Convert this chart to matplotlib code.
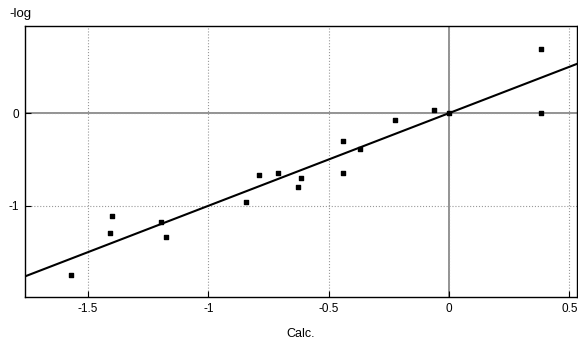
import numpy as np
import matplotlib.pyplot as plt

plt.rcParams['font.family'] = ['Liberation Sans', 'DejaVu Sans']

# calculated vs measured (-log) values
calc = [-1.569, -1.400, -1.408, -1.196, -1.178,
        -0.845, -0.789, -0.712, -0.629, -0.615,
        -0.439, -0.439, -0.371, -0.224, -0.064, 0.0,
        0.381, 0.381]
meas = [-1.744, -1.114, -1.294, -1.180, -1.341,
        -0.957, -0.665, -0.643, -0.798, -0.705,
        -0.302, -0.643, -0.385, -0.076, 0.029, 0.0,
        0.690, 0.0]
xticks = [-1.5, -1, -0.5, 0, 0.5]
xtick_labels = ['-1.5', '-1', '-0.5', '0', '0.5']
yticks = [-1, 0]
ytick_labels = ['-1', '0']

fig = plt.figure(figsize=(5.78, 3.43), dpi=100)
ax = fig.add_axes([0.0433, 0.134, 0.955, 0.790])

xlim = (-1.762, 0.532)
ylim = (-1.985, 0.94)

# reference lines through origin
ax.axhline(0, color='#808080', lw=1.2, zorder=1)
ax.axvline(0, color='#808080', lw=1.2, zorder=1)

# y = x line
lx = np.array(xlim)
ax.plot(lx, lx, color='black', lw=1.5, zorder=3)

ax.scatter(calc, meas, marker='s', s=12, color='black', zorder=4)

ax.set_xlim(xlim)
ax.set_ylim(ylim)
ax.set_xticks(xticks)
ax.set_xticklabels(xtick_labels)
ax.set_yticks(yticks)
ax.set_yticklabels(ytick_labels)
ax.grid(True, linestyle=':', color='#999999', lw=0.8)
ax.tick_params(direction='in', length=4, labelsize=8.5, pad=4)
for s in ax.spines.values():
    s.set_linewidth(1.0)

ax.set_xlabel('Calc.', fontsize=9, labelpad=10)
fig.text(0.017, 0.958, '-log', fontsize=9.5, va='center', ha='left')

fig.savefig('out.png', dpi=100)
